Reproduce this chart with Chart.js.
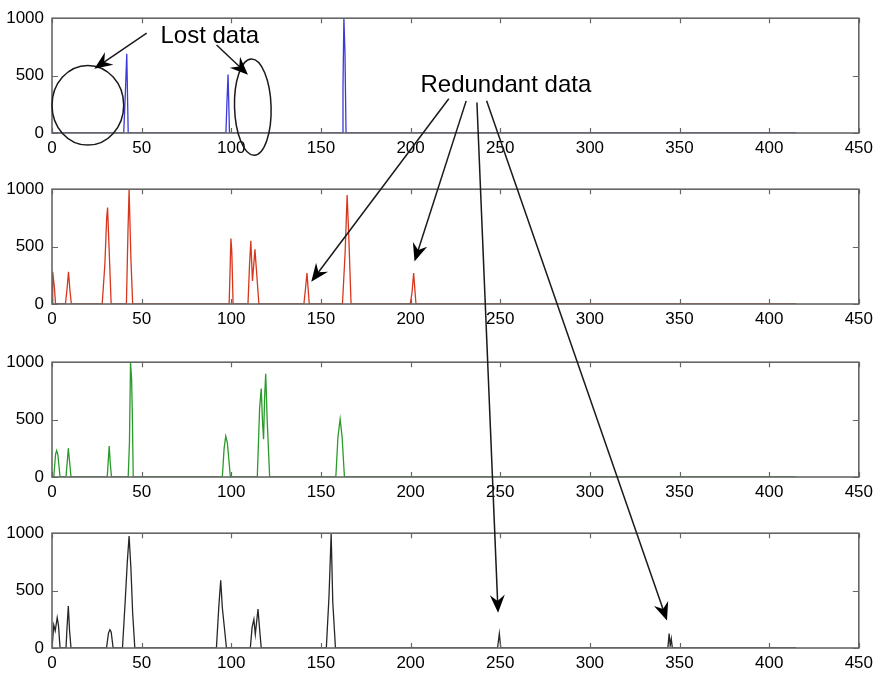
<!DOCTYPE html>
<html>
<head>
<meta charset="utf-8">
<script src="https://cdn.jsdelivr.net/npm/chart.js@4.4.0/dist/chart.umd.min.js"></script>
<style>
  body { margin: 0; background: #fff; }
  #wrap { position: relative; width: 878px; height: 680px; }
  .panel { position: absolute; left: 0; }
  #overlay { position: absolute; left: 0; top: 0; pointer-events: none; }
</style>
</head>
<body>
<div id="wrap">
  <canvas id="c0" class="panel" width="878" height="163" style="top:0px"></canvas>
  <canvas id="c1" class="panel" width="878" height="163" style="top:171px"></canvas>
  <canvas id="c2" class="panel" width="878" height="163" style="top:344px"></canvas>
  <canvas id="c3" class="panel" width="878" height="163" style="top:515px"></canvas>
  <canvas id="overlay" width="878" height="680"></canvas>
</div>
<script>
var xTicks = [0, 50, 100, 150, 200, 250, 300, 350, 400, 450]
var yTicks = [0, 500, 1000]

// [x, y]
var bluePoints = [[0,0],[40,0],[41,380],[41.7,690],[42.5,0],[97,0],[97.6,280],[98.2,510],[99,0],
  [161.8,0],[162.3,400],[162.8,1000],[163.4,700],[164,0],[415,0]]

var redPoints = [[0,0],[0.4,280],[1.3,150],[2,0],[7.5,0],[8.5,150],[9.2,280],[10,120],[10.8,0],
  [28,0],[29.5,350],[30.5,750],[31,840],[31.8,500],[33,0],[41.5,0],[42.4,650],[43,1000],[44,400],[45,0],
  [98.8,0],[99.8,570],[100.3,450],[101,0],[109.3,0],[110.2,350],[110.9,550],[111.8,200],[113.2,476],[114,300],[115.4,0],
  [140.5,0],[141.5,150],[142.2,270],[143.5,0],[162,0],[163.5,450],[164.6,950],[165.5,600],[166.8,0],
  [199.8,0],[200.8,100],[201.7,270],[203,0],[415,0]]

var greenPoints = [[0,0],[1,0],[2,200],[2.6,230],[3.3,190],[4.5,0],[7.8,0],[8.6,150],[9.1,250],[10.6,0],
  [30.8,0],[31.9,270],[32.5,120],[33.2,0],[42.5,0],[43.2,300],[43.8,1000],[44.4,850],[44.8,550],[45.3,0],
  [95,0],[96,250],[96.9,355],[97.8,300],[99.5,0],[114.5,0],[115.8,600],[116.7,770],[117.5,450],[118,330],
  [118.6,700],[119.2,900],[120,500],[121.4,0],[158.3,0],[159.5,350],[160.7,505],[161.8,350],[163.1,0],[415,0]]

var blackPoints = [[0,0],[0.3,0],[1,200],[1.8,150],[2.9,265],[3.6,200],[4.5,0],[7.8,0],[8.4,180],[9.1,365],[9.8,150],[10.6,0],
  [30.4,0],[31.5,130],[32.3,160],[33,140],[34.1,0],[39.3,0],[40.8,400],[42,750],[43,975],[44,700],[45,300],[46.2,0],
  [91.7,0],[93,350],[94.1,590],[95,350],[96,200],[97.3,0],[110.6,0],[111.6,180],[112.6,250],[113.4,120],[114.9,340],[115.6,200],[116.7,0],
  [153,0],[154.5,450],[155.7,995],[156.6,400],[158.1,0],[248.5,0],[249.5,125],[250.3,0],
  [343.5,0],[344.2,125],[344.8,20],[345.4,80],[346,0],[415,0]]

var panels = [
  {id: 'c0', top: 0, color: '#3a3ad6', points: bluePoints},
  {id: 'c1', top: 171, color: '#d8361c', points: redPoints},
  {id: 'c2', top: 344, color: '#2a9a2a', points: greenPoints},
  {id: 'c3', top: 515, color: '#262626', points: blackPoints}
]

Chart.defaults.font.family = '"Liberation Sans", Arial, sans-serif'
Chart.defaults.font.size = 17
Chart.defaults.color = '#000'

// matlab style box with inward ticks
var framePlugin = {
  id: 'frame',
  afterDraw: function (chart) {
    let ctx = chart.ctx
    let a = chart.chartArea
    let sx = chart.scales.x
    let sy = chart.scales.y
    ctx.save()
    ctx.strokeStyle = '#666'
    ctx.lineWidth = 1.6
    ctx.strokeRect(a.left, a.top, a.right - a.left, a.bottom - a.top)
    ctx.lineWidth = 1.2
    ctx.beginPath()
    xTicks.forEach(function (v) {
      let p = Math.round(sx.getPixelForValue(v)) + 0.5
      ctx.moveTo(p, a.bottom); ctx.lineTo(p, a.bottom - 5)
      ctx.moveTo(p, a.top); ctx.lineTo(p, a.top + 5)
    })
    yTicks.forEach(function (v) {
      let p = Math.round(sy.getPixelForValue(v)) + 0.5
      ctx.moveTo(a.left, p); ctx.lineTo(a.left + 6, p)
      ctx.moveTo(a.right, p); ctx.lineTo(a.right - 6, p)
    })
    ctx.stroke()
    ctx.restore()
  }
}

function plainLabel(v) { return String(v) }

var charts = []
panels.forEach(function (p) {
  let ctx = document.getElementById(p.id).getContext('2d')
  let chart = new Chart(ctx, {
    type: 'line',
    data: {
      datasets: [{
        data: p.points.map(function (d) { return {x: d[0], y: d[1]} }),
        borderColor: p.color,
        borderWidth: 1.3,
        pointRadius: 0,
        tension: 0,
        fill: false
      }]
    },
    options: {
      responsive: false,
      animation: false,
      layout: {padding: {top: 9, right: 18, left: 0, bottom: 0}},
      plugins: {legend: {display: false}, tooltip: {enabled: false}},
      scales: {
        x: {
          type: 'linear', min: 0, max: 450,
          afterBuildTicks: function (s) { s.ticks = xTicks.map(function (v) { return {value: v} }) },
          afterFit: function (s) { s.height = 30 },
          grid: {display: false, drawTicks: false},
          border: {display: false},
          ticks: {padding: 5, maxRotation: 0, autoSkip: false, callback: plainLabel}
        },
        y: {
          min: 0, max: 1000,
          afterBuildTicks: function (s) { s.ticks = yTicks.map(function (v) { return {value: v} }) },
          afterFit: function (s) { s.width = 52 },
          grid: {display: false, drawTicks: false},
          border: {display: false},
          ticks: {padding: 8, callback: plainLabel}
        }
      }
    },
    plugins: [framePlugin]
  })
  charts.push(chart)
})

// annotations, positions in data units of a panel
function pt(i, x, y) {
  let c = charts[i]
  return {x: c.scales.x.getPixelForValue(x), y: c.scales.y.getPixelForValue(y) + panels[i].top}
}

var labels = [
  {text: 'Lost data', panel: 0, x: 60.5, y: 782},
  {text: 'Redundant data', panel: 0, x: 205.5, y: 355}
]
var ellipses = [
  {panel: 0, x: 20, y: 242, rx: 20, ry: 347, rot: 0},
  {panel: 0, x: 112, y: 226, rx: 10.2, ry: 419, rot: -0.03}
]
var arrows = [
  {from: [0, 52.8, 871], to: [0, 23.6, 560]},
  {from: [0, 91.8, 766], to: [0, 109.3, 508]},
  {from: [0, 221.3, 298], to: [1, 144.6, 194]},
  {from: [0, 231, 280], to: [1, 202.2, 370]},
  {from: [0, 237, 266], to: [3, 248.8, 306]},
  {from: [0, 242.4, 280], to: [3, 343, 240]}
]

var octx = document.getElementById('overlay').getContext('2d')
octx.fillStyle = '#000'
octx.strokeStyle = '#1a1a1a'
octx.font = '24px "Liberation Sans", Arial, sans-serif'
octx.textBaseline = 'alphabetic'
labels.forEach(function (l) {
  let p = pt(l.panel, l.x, l.y)
  octx.fillText(l.text, p.x, p.y)
})

octx.lineWidth = 1.5
ellipses.forEach(function (e) {
  let c = pt(e.panel, e.x, e.y)
  let edge = pt(e.panel, e.x + e.rx, e.y + e.ry)
  octx.beginPath()
  octx.ellipse(c.x, c.y, edge.x - c.x, c.y - edge.y, e.rot, 0, Math.PI * 2)
  octx.stroke()
})

arrows.forEach(function (a) {
  let s = pt(a.from[0], a.from[1], a.from[2])
  let t = pt(a.to[0], a.to[1], a.to[2])
  let ang = Math.atan2(t.y - s.y, t.x - s.x)
  let len = 18, half = 7.5
  let bx = t.x - Math.cos(ang) * len, by = t.y - Math.sin(ang) * len
  octx.beginPath()
  octx.moveTo(s.x, s.y)
  octx.lineTo(t.x - Math.cos(ang) * 10, t.y - Math.sin(ang) * 10)
  octx.stroke()
  octx.beginPath()
  octx.moveTo(t.x, t.y)
  octx.lineTo(bx - Math.sin(ang) * half, by + Math.cos(ang) * half)
  octx.lineTo(t.x - Math.cos(ang) * 12, t.y - Math.sin(ang) * 12)
  octx.lineTo(bx + Math.sin(ang) * half, by - Math.cos(ang) * half)
  octx.closePath()
  octx.fill()
})
</script>
</body>
</html>
